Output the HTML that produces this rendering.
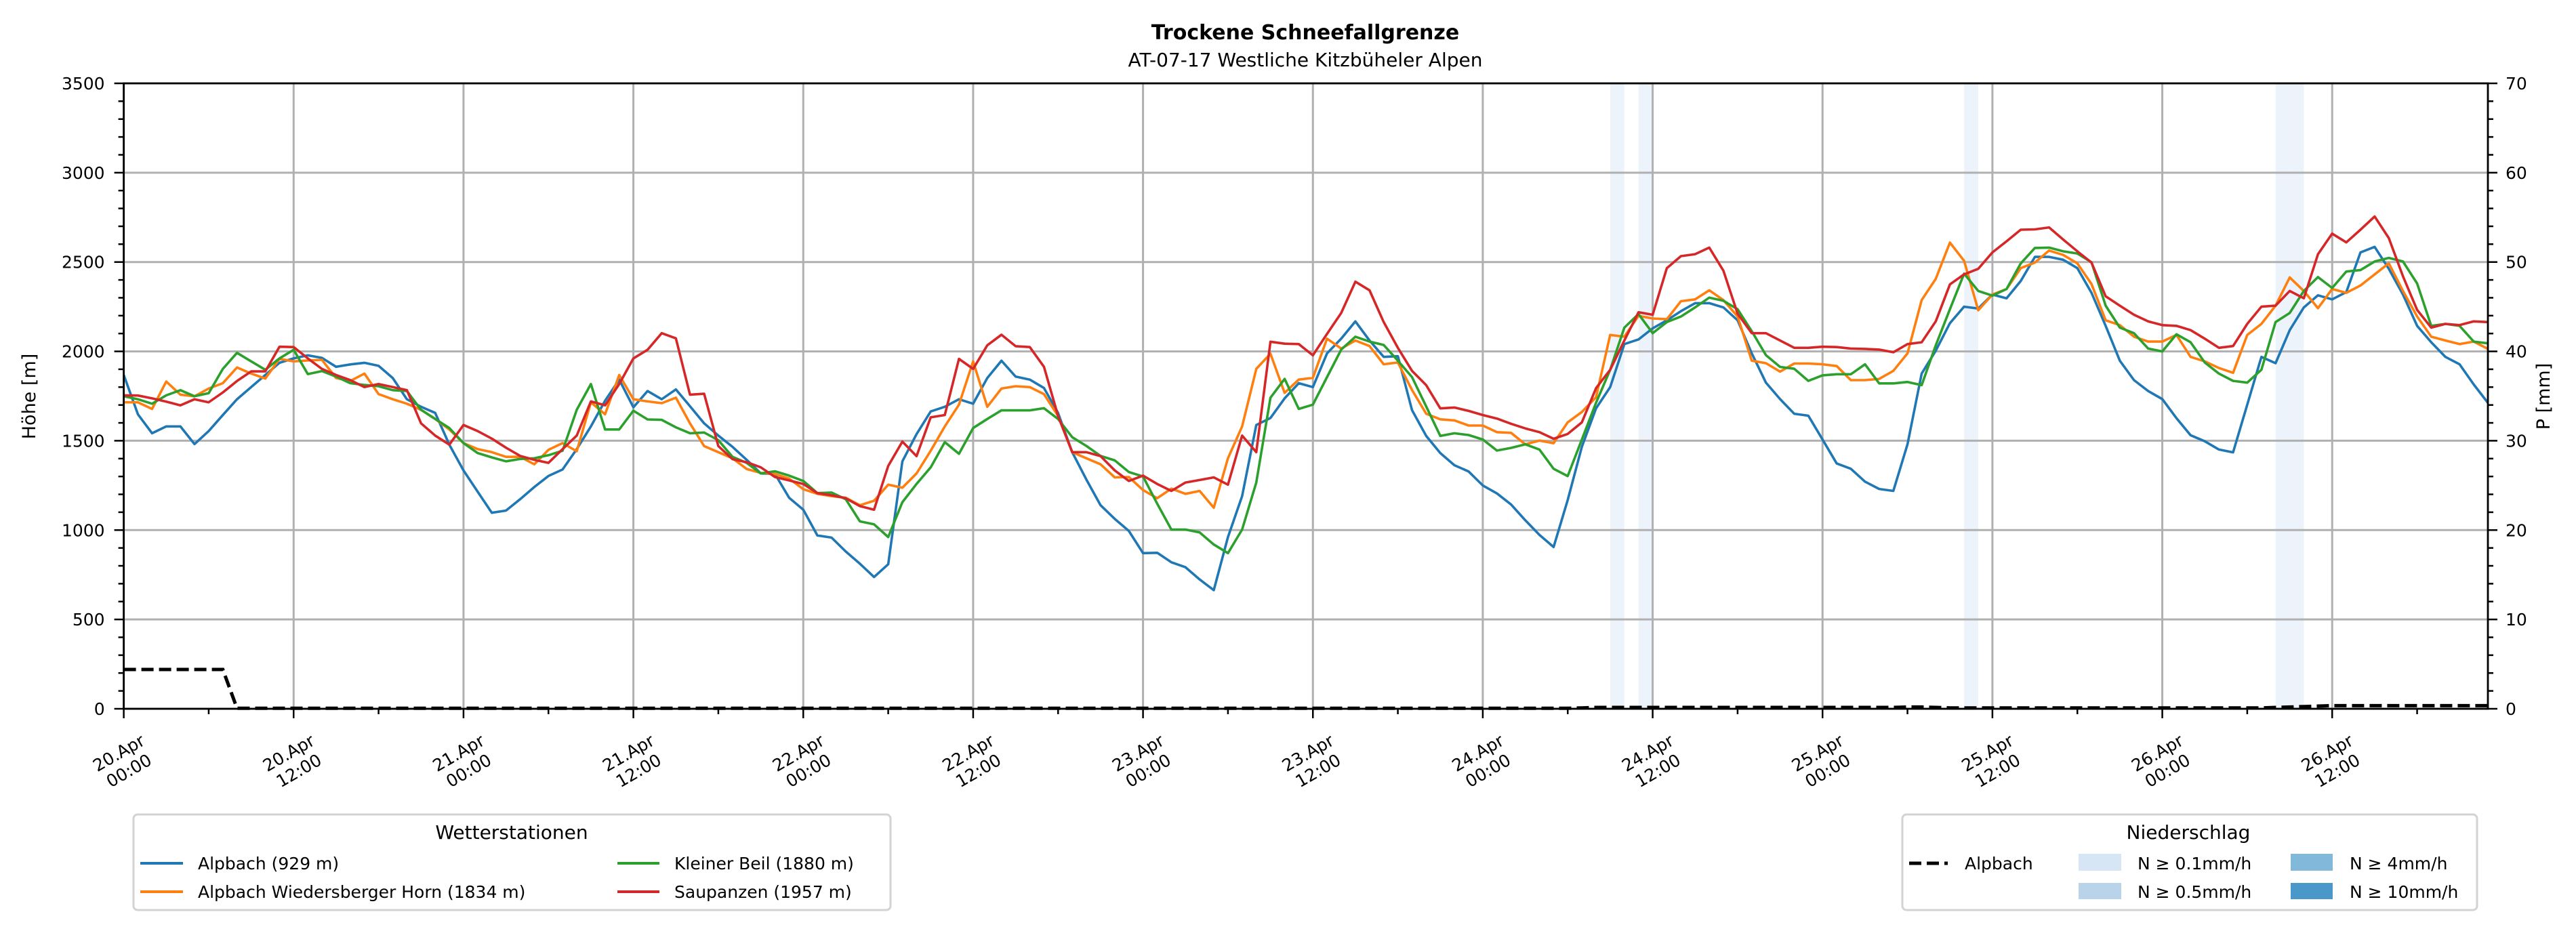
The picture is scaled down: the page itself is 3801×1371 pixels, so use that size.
<!DOCTYPE html>
<html><head><meta charset="utf-8"><style>
html,body{margin:0;padding:0;background:#fff}
svg{display:block}
text{font-family:"DejaVu Sans","Liberation Sans",sans-serif;fill:#000}
</style></head><body>
<svg id="chart" width="3801" height="1371" viewBox="0 0 3801 1371" xmlns="http://www.w3.org/2000/svg">
<text x="1926" y="58" font-size="30" font-weight="bold" text-anchor="middle">Trockene Schneefallgrenze</text>
<text x="1926" y="98" font-size="28" text-anchor="middle">AT-07-17 Westliche Kitzbüheler Alpen</text>
<g id="bands"></g>
<g id="grid"></g>
<g id="series"></g>
<g id="axes"></g>
<text transform="translate(52,585) rotate(-90)" font-size="27" text-anchor="middle">Höhe [m]</text>
<text transform="translate(3762,585) rotate(-90)" font-size="27" text-anchor="middle">P [mm]</text>
<g>
<rect x="197" y="1202" width="1117" height="141" rx="6" fill="#fff" stroke="#d3d3d3" stroke-width="3"/>
<text x="755" y="1238" font-size="28" text-anchor="middle">Wetterstationen</text>
<g><line x1="207" y1="1274" x2="270" y2="1274" stroke="#1f77b4" stroke-width="4"/><text x="292" y="1283" font-size="25">Alpbach (929 m)</text></g>
<g><line x1="207" y1="1316" x2="270" y2="1316" stroke="#ff7f0e" stroke-width="4"/><text x="292" y="1325" font-size="25">Alpbach Wiedersberger Horn (1834 m)</text></g>
<g><line x1="911" y1="1274" x2="973" y2="1274" stroke="#2ca02c" stroke-width="4"/><text x="995" y="1283" font-size="25">Kleiner Beil (1880 m)</text></g>
<g><line x1="911" y1="1316" x2="973" y2="1316" stroke="#d62728" stroke-width="4"/><text x="995" y="1325" font-size="25">Saupanzen (1957 m)</text></g>
</g>
<g>
<rect x="2807" y="1202" width="848" height="141" rx="6" fill="#fff" stroke="#d3d3d3" stroke-width="3"/>
<text x="3229" y="1238" font-size="28" text-anchor="middle">Niederschlag</text>
<g><line x1="2817" y1="1274" x2="2874" y2="1274" stroke="#000" stroke-width="5" stroke-dasharray="18,8"/><text x="2899" y="1283" font-size="25">Alpbach</text></g>
<g><rect x="3067" y="1260" width="63" height="25" fill="#d6e6f4"/><text x="3154" y="1283" font-size="25">N ≥ 0.1mm/h</text></g>
<g><rect x="3067" y="1303" width="63" height="24" fill="#b9d4ea"/><text x="3154" y="1325" font-size="25">N ≥ 0.5mm/h</text></g>
<g><rect x="3380" y="1260" width="62" height="25" fill="#82b9da"/><text x="3467" y="1283" font-size="25">N ≥ 4mm/h</text></g>
<g><rect x="3380" y="1303" width="62" height="24" fill="#4a97c9"/><text x="3467" y="1325" font-size="25">N ≥ 10mm/h</text></g>
</g>
</svg>
<script>
const alpbach = [1868,1648,1542,1580,1580,1481,1554,1644,1732,1800,1868,1936,1961,1978,1964,1914,1927,1936,1919,1851,1732,1690,1656,1478,1334,1215,1097,1109,1173,1241,1303,1339,1453,1580,1724,1842,1687,1778,1732,1787,1693,1597,
1529,1466,1393,1317,1314,1181,1114,970,958,880,812,737,809,1385,1537,1664,1690,1732,1707,1851,1948,1859,1842,1795,1656,1436,1283,1139,1063,995,871,873,820,792,724,664,961,1190,1588,1627,1737,1822,1800,
1989,2071,2168,2061,1969,1973,1671,1527,1431,1363,1328,1250,1205,1143,1055,973,905,1168,1466,1681,1800,2041,2067,2129,2174,2225,2270,2270,2246,2174,1989,1825,1733,1651,1640,1507,1373,1343,1271,1230,1219,
1480,1876,2004,2158,2250,2240,2318,2297,2394,2529,2529,2513,2466,2328,2143,1948,1839,1778,1733,1626,1531,1497,1451,1435,1702,1969,1934,2119,2246,2314,2291,2332,2554,2585,2462,2318,2143,2051,1969,1928,1815,1712];
const wiedersberg = [1715,1715,1678,1831,1758,1749,1792,1822,1910,1876,1848,1958,1944,1949,1953,1851,1834,1876,1761,1732,1707,1673,1622,1563,1487,1453,1436,1410,1410,1368,1449,1487,1441,1715,1648,1868,1732,1720,1710,1741,1597,1470,
1436,1402,1342,1320,1314,1288,1229,1203,1190,1181,1139,1164,1254,1237,1317,1444,1580,1702,1944,1690,1792,1805,1800,1761,1639,1436,1402,1368,1295,1297,1224,1178,1232,1203,1219,1125,1402,1580,1902,1987,1768,1842,1852,
2071,2016,2061,2030,1928,1938,1784,1651,1620,1614,1585,1585,1548,1544,1480,1501,1486,1603,1661,1743,2092,2082,2199,2184,2180,2281,2291,2342,2287,2195,1948,1934,1887,1932,1932,1928,1918,1839,1839,1846,1891,
1989,2287,2406,2609,2507,2230,2318,2349,2466,2497,2564,2540,2493,2377,2174,2147,2082,2055,2055,2092,1969,1944,1907,1880,2092,2154,2256,2414,2338,2242,2349,2328,2369,2431,2493,2338,2195,2082,2061,2041,2055,2014];
const kleinerBeil = [1749,1732,1707,1754,1783,1749,1766,1902,1992,1944,1897,1961,2009,1873,1890,1859,1822,1812,1805,1783,1778,1673,1622,1571,1487,1431,1407,1385,1398,1402,1419,1444,1673,1817,1563,1563,1668,1619,1617,1575,1542,1546,
1503,1410,1376,1317,1329,1305,1275,1207,1210,1173,1049,1032,961,1156,1258,1351,1492,1427,1571,1622,1670,1670,1670,1682,1622,1520,1471,1415,1390,1325,1300,1148,1003,1003,987,919,871,1003,1266,1741,1846,1678,1702,
1856,2010,2082,2055,2036,1948,1856,1692,1527,1542,1532,1507,1445,1460,1480,1451,1343,1302,1507,1712,1897,2133,2209,2102,2164,2195,2246,2301,2283,2236,2113,1979,1913,1903,1835,1866,1872,1872,1928,1821,1821,
1829,1811,2034,2236,2435,2338,2312,2349,2492,2579,2581,2560,2548,2499,2256,2133,2102,2016,2000,2096,2051,1938,1876,1835,1825,1897,2164,2215,2338,2416,2355,2447,2455,2503,2523,2503,2380,2143,2154,2143,2055,2045];
const saupanzen = [1754,1753,1737,1719,1698,1732,1715,1770,1834,1888,1888,2026,2024,1961,1902,1868,1839,1800,1817,1800,1783,1597,1529,1478,1588,1554,1512,1461,1415,1393,1376,1453,1529,1720,1698,1817,1961,2009,2102,2073,1758,1763,
1470,1397,1380,1351,1297,1278,1258,1207,1195,1178,1134,1114,1359,1495,1414,1631,1644,1958,1902,2034,2093,2029,2024,1914,1639,1436,1436,1414,1334,1275,1305,1258,1219,1266,1280,1295,1254,1529,1436,2054,2043,2041,1978,
2098,2215,2390,2342,2164,2020,1891,1811,1681,1686,1667,1644,1624,1595,1569,1548,1511,1538,1603,1794,1897,2061,2219,2205,2466,2533,2544,2581,2451,2211,2102,2102,2061,2020,2020,2026,2024,2016,2014,2010,1995,
2041,2051,2168,2375,2431,2462,2554,2616,2681,2683,2694,2626,2560,2497,2308,2256,2205,2168,2147,2143,2119,2071,2020,2030,2154,2250,2256,2338,2297,2544,2659,2610,2681,2755,2634,2420,2232,2133,2154,2147,2168,2164];
const precip = [4.4,4.4,4.4,4.4,4.4,4.4,4.4,4.4,0.05,0.05,0.05,0.05,0.05,0.05,0.05,0.05,0.05,0.05,0.05,0.05,0.05,0.05,0.05,0.05,
0.05,0.05,0.05,0.05,0.05,0.05,0.05,0.05,0.05,0.05,0.05,0.05,0.05,0.05,0.05,0.05,0.05,0.05,0.05,0.05,0.05,0.05,0.05,0.05,
0.05,0.05,0.05,0.05,0.05,0.05,0.05,0.05,0.05,0.05,0.05,0.05,0.05,0.05,0.05,0.05,0.05,0.05,0.05,0.05,0.05,0.05,0.05,0.05,
0.05,0.05,0.05,0.05,0.05,0.05,0.05,0.05,0.05,0.05,0.05,0.05,0.05,0.05,0.05,0.05,0.05,0.05,0.05,0.05,0.05,0.05,0.05,0.05,
0.05,0.05,0.05,0.05,0.05,0.05,0.05,0.1,0.15,0.15,0.15,0.15,0.15,0.15,0.15,0.15,0.15,0.15,0.15,0.15,0.15,0.15,0.15,0.15,
0.15,0.15,0.15,0.15,0.15,0.15,0.2,0.2,0.15,0.1,0.1,0.1,0.1,0.1,0.1,0.1,0.1,0.1,0.1,0.1,0.1,0.1,0.1,0.1,0.1,0.1,
0.1,0.1,0.1,0.1,0.1,0.1,0.15,0.2,0.25,0.3,0.35,0.35,0.35,0.35,0.35,0.35,0.35,0.35,0.35,0.35,0.35,0.35];
const bandHours = [105,107,130,152,153];
const tickDays = ["20","20","21","21","22","22","23","23","24","24","25","25","26","26"];
const tickTimes = ["00:00","12:00","00:00","12:00","00:00","12:00","00:00","12:00","00:00","12:00","00:00","12:00","00:00","12:00"];
const yTicks = [0,500,1000,1500,2000,2500,3000,3500];
const pTicks = [0,10,20,30,40,50,60,70];

const NS="http://www.w3.org/2000/svg";
const L=182.6, R=3671, T=123, B=1046, HMAX=167, VMAX=3500, PMAX=70;
const X=h=>L+h*(R-L)/HMAX;
const Y=v=>B-v*(B-T)/VMAX;
const YP=p=>B-p*(B-T)/PMAX;
function mk(tag,attrs,parent){const e=document.createElementNS(NS,tag);for(const k in attrs)e.setAttribute(k,attrs[k]);parent.appendChild(e);return e;}
const gB=document.getElementById('bands'),gG=document.getElementById('grid'),gS=document.getElementById('series'),gA=document.getElementById('axes');
bandHours.forEach(h=>{const r=mk('rect',{x:X(h),y:T,width:X(h+1)-X(h),height:B-T,fill:'#edf3fa'},gB);

});
// grid
tickTimes.forEach((t,i)=>{const x=X(i*12);const l=mk('line',{x1:x,y1:T,x2:x,y2:B,stroke:'#b0b0b0','stroke-width':3},gG);

});
yTicks.forEach(v=>{const l=mk('line',{x1:L,y1:Y(v),x2:R,y2:Y(v),stroke:'#b0b0b0','stroke-width':3},gG);

});
// series
const series=[[alpbach,'#1f77b4','line-alpbach'],[wiedersberg,'#ff7f0e','line-wiedersberger-horn'],[kleinerBeil,'#2ca02c','line-kleiner-beil'],[saupanzen,'#d62728','line-saupanzen']];
series.forEach(s=>{const pts=s[0].map((v,i)=>X(i).toFixed(1)+','+Y(v).toFixed(1)).join(' ');
const p=mk('polyline',{points:pts,fill:'none',stroke:s[1],'stroke-width':3.6,'stroke-linejoin':'round'},gS);

});
const pp=precip.map((v,i)=>X(i).toFixed(1)+','+YP(v).toFixed(1)).join(' ');
const pl=mk('polyline',{points:pp,fill:'none',stroke:'#000','stroke-width':5,'stroke-dasharray':'18,8'},gS);


// axes frame
const fr=mk('rect',{x:L,y:T,width:R-L,height:B-T,fill:'none',stroke:'#000','stroke-width':2.8},gA);


// y ticks left
for(let v=0;v<=VMAX;v+=100){const major=v%500===0;mk('line',{x1:L-(major?14:8),y1:Y(v),x2:L,y2:Y(v),stroke:'#000','stroke-width':2.5},gA);}
yTicks.forEach(v=>{const t=mk('text',{x:L-28,y:Y(v)+9,'font-size':25,'text-anchor':'end'},gA);t.textContent=v;

});
// right ticks
for(let p=0;p<=PMAX;p+=2){const major=p%10===0;mk('line',{x1:R,y1:YP(p),x2:R+(major?14:8),y2:YP(p),stroke:'#000','stroke-width':2.5},gA);}
pTicks.forEach(p=>{const t=mk('text',{x:R+26,y:YP(p)+9,'font-size':25},gA);t.textContent=p;

});
// x ticks
for(let h=0;h<=HMAX;h+=6){const major=h%12===0;mk('line',{x1:X(h),y1:B,x2:X(h),y2:B+(major?14:8),stroke:'#000','stroke-width':2.5},gA);}
tickTimes.forEach((t,i)=>{const g=mk('g',{transform:'translate('+X(i*12)+',1124) rotate(-30)'},gA);


const a=mk('text',{x:0,y:-6,'font-size':25,'text-anchor':'middle'},g);a.textContent=tickDays[i]+'.Apr';
const b=mk('text',{x:0,y:24,'font-size':25,'text-anchor':'middle'},g);b.textContent=t;});
</script>
</body></html>
